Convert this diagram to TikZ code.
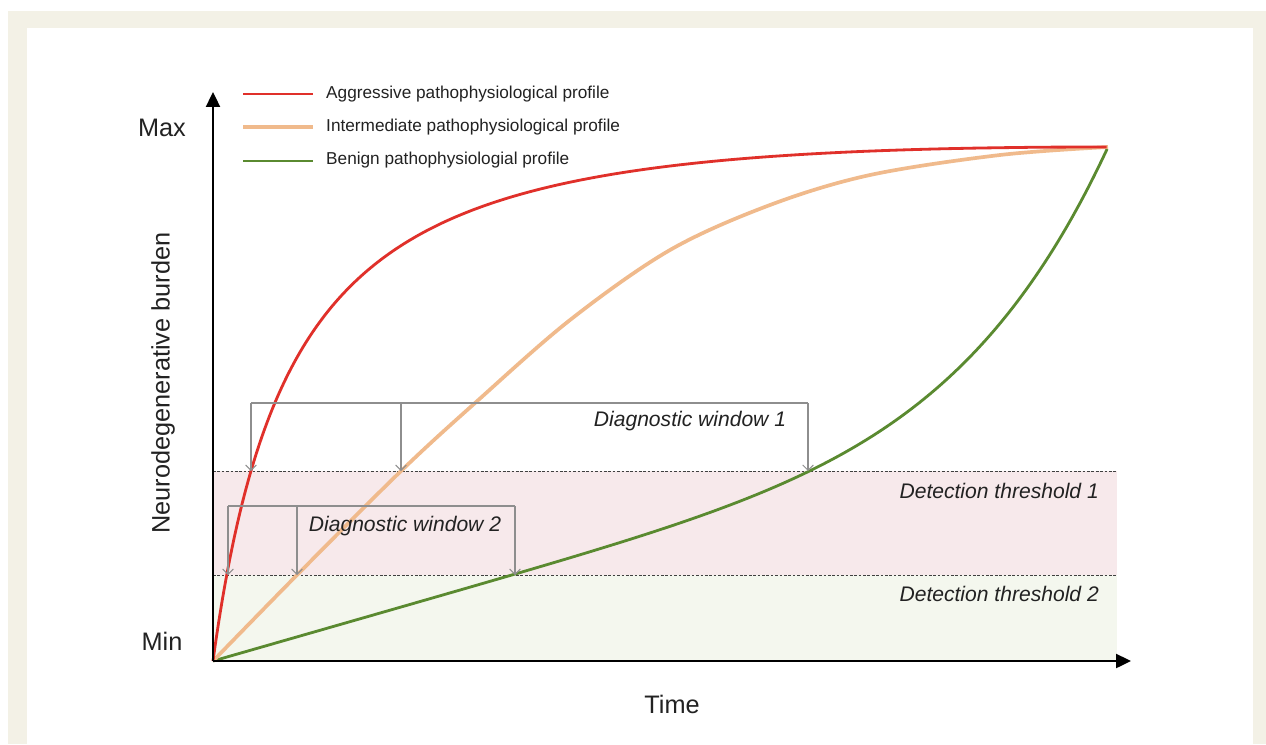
\documentclass[tikz,border=0pt]{standalone}
\usepackage{fontspec}
\setmainfont{Liberation Sans}
\usetikzlibrary{arrows.meta}
\definecolor{beige}{HTML}{F3F1E6}
\definecolor{redc}{HTML}{E0302A}
\definecolor{orangec}{HTML}{F0BA8C}
\definecolor{greenc}{HTML}{5A8A30}
\definecolor{pinkband}{HTML}{F7E9EB}
\definecolor{greenband}{HTML}{F4F7EE}
\definecolor{diag}{HTML}{8E8E8E}
\definecolor{txt}{HTML}{222222}
\begin{document}
\begin{tikzpicture}[x=0.02cm,y=-0.02cm,
  axis/.style={line width=1.1pt,black,-{Triangle[length=8.5pt,width=8pt]}},
  curvered/.style={line width=1.6pt,redc},
  curveorange/.style={line width=2.1pt,orangec},
  curvegreen/.style={line width=1.6pt,greenc},
  thr/.style={line width=0.45pt,black!75,dash pattern=on 1.5pt off 1pt},
  diagline/.style={line width=0.6pt,diag},
  diagarrow/.style={diagline,-{Straight Barb[length=3pt,width=6pt]}},
  axlabel/.style={text=txt,font=\fontsize{14.4}{17}\selectfont},
  legtext/.style={text=txt,anchor=west,font=\fontsize{9.8}{12}\selectfont},
  itlabel/.style={text=txt,font=\fontsize{12}{14}\selectfont\itshape},
  declare function={redf(\t)=(1-\t)*(1-\t)*0.0933/(0.0933+\t);
                    grnf(\t)=0.5*\t+0.25*\t*\t*\t*\t*\t*\t+0.25*\t*\t*\t*\t*\t*\t*\t;}
]
\useasboundingbox (0,0) rectangle (1266,744);
\fill[white] (0,0) rectangle (1266,744);
\fill[beige] (8,11) rectangle (1266,744);
\fill[white] (27,28) rectangle (1253,744);
% bands
\fill[pinkband] (213,471) rectangle (1117,575);
\fill[greenband] (213,575) rectangle (1117,661);
\coordinate (O) at (213,661);
\coordinate (T1L) at (213,471);
\coordinate (T1R) at (1117,471);
\coordinate (T2L) at (213,575);
\coordinate (T2R) at (1117,575);
\draw[thr] (T1L) -- (T1R);
\draw[thr] (T2L) -- (T2R);
% curves
\coordinate (E) at (1108,147);
\draw[curvegreen] plot[domain=0:1,samples=200,variable=\t] ({213+895*\t},{661-514*grnf(\t)});
\draw[curveorange] plot[smooth,tension=0.55] coordinates {(213,661) (297,575) (401,471) (475,403) (570,320) (670,250) (770,205) (870,175) (1000,155) (1108,147)};
\draw[curvered] plot[domain=0:1,samples=250,variable=\s] ({213+895*\s*\s},{147+514*redf(\s*\s)});
% axes
\coordinate (YT) at (213,92);
\coordinate (XT) at (1131,661);
\draw[axis] (O) -- (YT);
\draw[axis] (O) -- (XT);
\node[axlabel] (max) at (162,128) {Max};
\node[axlabel] (min) at (162,641) {Min};
\node[axlabel,rotate=90] (ylab) at (163,383) {Neurodegenerative burden};
\node[axlabel] (time) at (672,704) {Time};
% legend
\coordinate (L1a) at (243,94); \coordinate (L1b) at (313,94);
\coordinate (L2a) at (243,127); \coordinate (L2b) at (313,127);
\coordinate (L3a) at (243,161); \coordinate (L3b) at (313,161);
\draw[curvered] (L1a) -- (L1b);
\draw[curveorange] (L2a) -- (L2b);
\draw[curvegreen] (L3a) -- (L3b);
\node[legtext] (lg1) at (320,94) {Aggressive pathophysiological profile};
\node[legtext] (lg2) at (320,127) {Intermediate pathophysiological profile};
\node[legtext] (lg3) at (320,160) {Benign pathophysiologial profile};
% diagnostic window 1
\coordinate (A1) at (251,403); \coordinate (B1) at (401,403); \coordinate (C1) at (808,403);
\coordinate (a1) at (251,471); \coordinate (b1) at (401,471); \coordinate (c1) at (808,471);
\draw[diagline] (A1) -- (C1);
\draw[diagarrow] (A1) -- (a1);
\draw[diagarrow] (B1) -- (b1);
\draw[diagarrow] (C1) -- (c1);
\node[itlabel] (dw1) at (690,421) {Diagnostic window 1};
% diagnostic window 2
\coordinate (A2) at (228,506); \coordinate (B2) at (297,506); \coordinate (C2) at (515,506);
\coordinate (a2) at (228,575); \coordinate (b2) at (297,575); \coordinate (c2) at (515,575);
\draw[diagline] (A2) -- (C2);
\draw[diagarrow] (A2) -- (a2);
\draw[diagarrow] (B2) -- (b2);
\draw[diagarrow] (C2) -- (c2);
\node[itlabel] (dw2) at (405,526) {Diagnostic window 2};
% threshold labels
\node[itlabel,anchor=east] (th1) at (1105,491) {Detection threshold 1};
\node[itlabel,anchor=east] (th2) at (1105,594) {Detection threshold 2};
\end{tikzpicture}
\end{document}
